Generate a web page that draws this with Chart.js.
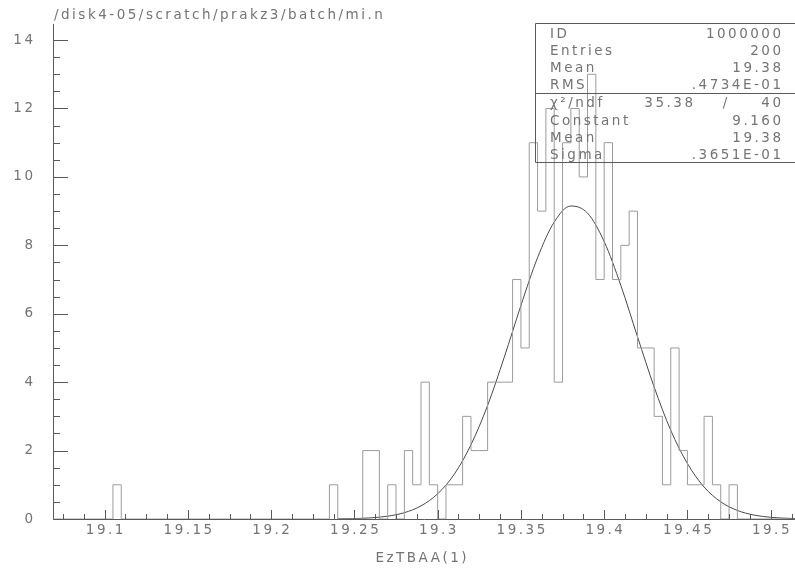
<!DOCTYPE html>
<html>
<head>
<meta charset="utf-8">
<script src="https://cdn.jsdelivr.net/npm/chart.js@4"></script>
<style>
  body { margin: 0; background: #fff; }
  #histo { display: block; }
</style>
</head>
<body>
<canvas id="histo" width="795" height="571"></canvas>
<script>

// histogram: 90 bins of 0.005 from 19.07
let binLow = 19.07;
let binWidth = 0.005;
let binCounts = [
    0, 0, 0, 0, 0, 0, 0, 1, 0, 0,
    0, 0, 0, 0, 0, 0, 0, 0, 0, 0,
    0, 0, 0, 0, 0, 0, 0, 0, 0, 0,
    0, 0, 0, 1, 0, 0, 0, 2, 2, 0,
    1, 0, 2, 1, 4, 1, 0, 1, 1, 3,
    2, 2, 4, 4, 4, 7, 5, 11, 9, 12,
    4, 11, 12, 10, 13, 7, 11, 7, 8, 9,
    5, 5, 3, 1, 5, 2, 1, 1, 3, 1,
    0, 1, 0, 0, 0, 0, 0, 0, 0, 0
];

// gaussian fit
let fitX = [19.24, 19.25, 19.26, 19.27, 19.28, 19.29, 19.30, 19.31, 19.32, 19.33,
            19.34, 19.35, 19.36, 19.37, 19.38, 19.39, 19.40, 19.41, 19.42, 19.43,
            19.44, 19.45, 19.46, 19.47, 19.48, 19.49, 19.50, 19.51, 19.515];
let fitY = [0.005, 0.013, 0.034, 0.083, 0.185, 0.383, 0.736, 1.31, 2.17, 3.32,
            4.73, 6.24, 7.64, 8.68, 9.15, 8.94, 8.11, 6.83, 5.33, 3.86,
            2.59, 1.62, 0.935, 0.502, 0.250, 0.115, 0.049, 0.020, 0.012];

// axes
let xMin = 19.069, xMax = 19.5146;
let yMin = 0, yMax = 14.47;
let xTickLabels = ["19.1", "19.15", "19.2", "19.25", "19.3", "19.35", "19.4", "19.45", "19.5"];
let yTickLabels = ["0", "2", "4", "6", "8", "10", "12", "14"];

let titleText = "/disk4-05/scratch/prakz3/batch/mi.n";
let xAxisTitle = "EzTBAA(1)";

let statRows1 = [["ID", "1000000"], ["Entries", "200"], ["Mean", "19.38"], ["RMS", ".4734E-01"]];
let chiRow = ["\u03C7\u00B2/ndf", "35.38", "/", "40"];
let statRows2 = [["Constant", "9.160"], ["Mean", "19.38"], ["Sigma", ".3651E-01"]];

let histPoints = binCounts.map((c, i) => ({x: binLow + i * binWidth, y: c}));
histPoints.push({x: binLow + binCounts.length * binWidth, y: 0});
let fitPoints = fitX.map((v, i) => ({x: v, y: fitY[i]}));

const axisColor = "#5a5a5a";
const textColor = "#747474";
const font = '13.5px "DejaVu Sans"';
const spacing = 2.5;

function drawText(ctx, str, x, y, align){
    ctx.textAlign = align;
    // letterSpacing adds a trailing gap, shift to compensate
    let shift = align === "right" ? spacing : (align === "center" ? spacing / 2 : 0);
    ctx.fillText(str, x + shift, y);
}

const pawFrame = {
    id: "pawFrame",
    afterDatasetsDraw(chart){
        const {ctx, chartArea: a, scales: {x, y}} = chart;
        ctx.save();
        ctx.strokeStyle = axisColor;
        ctx.lineWidth = 1;
        ctx.beginPath();
        ctx.moveTo(a.left + 0.5, a.top);
        ctx.lineTo(a.left + 0.5, a.bottom + 0.5);
        ctx.lineTo(a.right, a.bottom + 0.5);

        // y ticks, majors every 2, minors every 0.5
        for(let k = 0; k * 0.5 <= yMax; k++){
            let py = Math.round(y.getPixelForValue(k * 0.5)) + 0.5;
            let len = k % 4 === 0 ? 15 : 7;
            ctx.moveTo(a.left, py);
            ctx.lineTo(a.left + len, py);
        }
        // x ticks, majors every 0.05, minors every 0.0125
        for(let k = -4; ; k++){
            let v = 19.1 + k * 0.0125;
            if(v > xMax) break;
            if(v < xMin) continue;
            let px = Math.round(x.getPixelForValue(v)) + 0.5;
            let len = ((k % 4) + 4) % 4 === 0 ? 9 : 5;
            ctx.moveTo(px, a.bottom);
            ctx.lineTo(px, a.bottom - len);
        }
        ctx.stroke();

        // stats box
        let bx = 535.5, bTop = 23.5, bMid = 93.5, bBot = 162.5;
        ctx.beginPath();
        ctx.moveTo(795, bTop);
        ctx.lineTo(bx, bTop);
        ctx.lineTo(bx, bBot);
        ctx.lineTo(795, bBot);
        ctx.moveTo(bx, bMid);
        ctx.lineTo(795, bMid);
        ctx.stroke();

        ctx.fillStyle = textColor;
        ctx.font = font;
        ctx.letterSpacing = spacing + "px";

        ctx.textBaseline = "middle";
        yTickLabels.forEach(t => {
            drawText(ctx, t, 33, y.getPixelForValue(parseFloat(t)), "right");
        });
        ctx.textBaseline = "top";
        xTickLabels.forEach(t => {
            drawText(ctx, t, x.getPixelForValue(parseFloat(t)), 524, "center");
        });

        ctx.textBaseline = "alphabetic";
        drawText(ctx, titleText, 54, 19, "left");
        drawText(ctx, xAxisTitle, 421, 562, "center");

        let lx = 550, rx = 781;
        let rowsTop = [38, 55, 72, 89];
        statRows1.forEach((r, i) => {
            drawText(ctx, r[0], lx, rowsTop[i], "left");
            drawText(ctx, r[1], rx, rowsTop[i], "right");
        });
        drawText(ctx, chiRow[0], lx, 107, "left");
        drawText(ctx, chiRow[1], 693, 107, "right");
        drawText(ctx, chiRow[2], 725, 107, "center");
        drawText(ctx, chiRow[3], rx, 107, "right");
        let rowsBot = [125, 142, 159];
        statRows2.forEach((r, i) => {
            drawText(ctx, r[0], lx, rowsBot[i], "left");
            drawText(ctx, r[1], rx, rowsBot[i], "right");
        });
        ctx.restore();
    }
};

new Chart("histo", {
    type: "line",
    data: {
        datasets: [
            {
                label: "histogram",
                data: histPoints,
                stepped: "before",
                borderColor: "#9c9c9c",
                borderWidth: 1,
                pointRadius: 0,
                fill: false
            },
            {
                label: "fit",
                data: fitPoints,
                borderColor: "#4a4a4a",
                borderWidth: 1,
                pointRadius: 0,
                cubicInterpolationMode: "monotone",
                fill: false
            }
        ]
    },
    options: {
        responsive: false,
        animation: false,
        devicePixelRatio: 1,
        layout: {
            padding: {left: 53, top: 24, right: 0, bottom: 52}
        },
        scales: {
            x: {type: "linear", display: false, min: xMin, max: xMax},
            y: {type: "linear", display: false, min: yMin, max: yMax}
        },
        plugins: {
            legend: {display: false},
            tooltip: {enabled: false}
        }
    },
    plugins: [pawFrame]
});
</script>
</body>
</html>
